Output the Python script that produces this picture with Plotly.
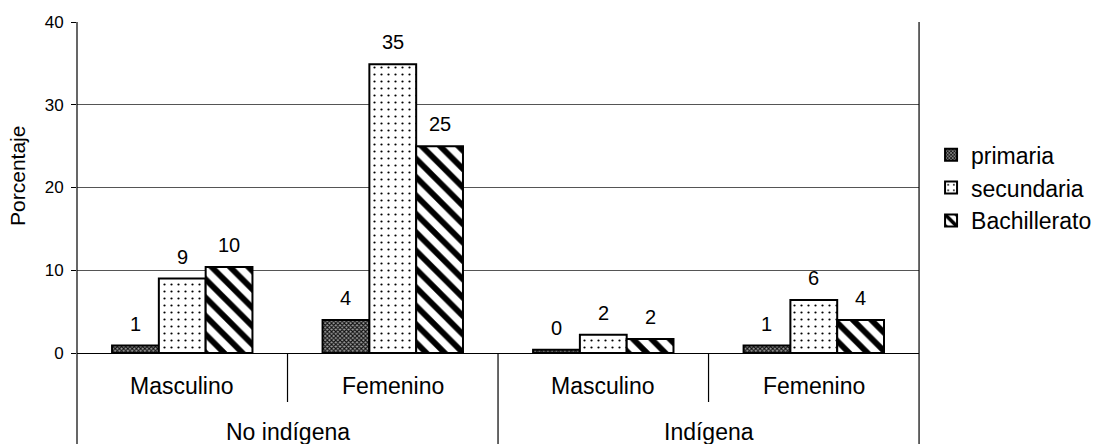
import plotly.graph_objects as go

outer_groups = ["No indígena", "No indígena", "Indígena", "Indígena"]
inner_groups = ["Masculino", "Femenino", "Masculino", "Femenino"]
series_names = ["primaria", "secundaria", "Bachillerato"]
primaria = [0.9, 4.0, 0.4, 0.9]
secundaria = [9.0, 34.9, 2.2, 6.4]
bachillerato = [10.4, 25.0, 1.7, 4.0]
y_ticks = [0, 10, 20, 30, 40]

FONT = "Liberation Sans, Arial, sans-serif"
keys = [f"{o}|{i}" for o, i in zip(outer_groups, inner_groups)]
series_values = [primaria, secundaria, bachillerato]
patterns = [
    dict(shape="x", size=3, solidity=0.6, fgcolor="#111111", bgcolor="#a0a0a0", fillmode="replace"),
    dict(shape=".", size=7, solidity=0.08, fgcolor="#000000", bgcolor="#ffffff", fillmode="replace"),
    dict(shape="\\", size=13, solidity=0.45, fgcolor="#000000", bgcolor="#ffffff", fillmode="replace"),
]
BARGAP = 0.333

fig = go.Figure()
for k, (name, vals, pat) in enumerate(zip(series_names, series_values, patterns)):
    fig.add_trace(go.Bar(
        x=keys, y=vals, name=name, legendgroup=name,
        marker=dict(color=pat["bgcolor"], pattern=pat, line=dict(color="black", width=2)),
    ))

n = len(keys)
bw = (1 - BARGAP) / len(series_names)
annotations = []
# data labels
for k, vals in enumerate(series_values):
    for ci, v in enumerate(vals):
        annotations.append(dict(
            x=ci + (k - 1) * bw, y=v, xref="x", yref="y", text=f"{round(v):d}",
            showarrow=False, yanchor="bottom", yshift=9,
            font=dict(family=FONT, size=20, color="black")))
# inner category labels
for ci, lab in enumerate(inner_groups):
    annotations.append(dict(
        x=(ci + 0.5) / n, y=-0.10, xref="paper", yref="paper", text=lab,
        showarrow=False, yanchor="middle", xanchor="center",
        font=dict(family=FONT, size=23, color="black")))
# outer category labels
outer_unique = []
for o in outer_groups:
    if o not in outer_unique:
        outer_unique.append(o)
for o in outer_unique:
    idx = [i for i, g in enumerate(outer_groups) if g == o]
    center = (min(idx) + max(idx) + 1) / 2 / n
    annotations.append(dict(
        x=center, y=-0.24, xref="paper", yref="paper", text=o,
        showarrow=False, yanchor="middle", xanchor="center",
        font=dict(family=FONT, size=23, color="black")))
# y title
annotations.append(dict(
    x=-0.07, y=0.535, xref="paper", yref="paper", text="Porcentaje", textangle=-90,
    showarrow=False, xanchor="center", yanchor="middle",
    font=dict(family=FONT, size=21, color="black")))

shapes = []
bottom = -0.275
for xp in (0, 1):
    shapes.append(dict(type="line", xref="paper", yref="paper", x0=xp, x1=xp, y0=bottom, y1=1,
                       line=dict(color="black", width=1.2)))
for b in range(1, n):
    y0 = bottom if outer_groups[b] != outer_groups[b - 1] else -0.148
    shapes.append(dict(type="line", xref="paper", yref="paper", x0=b / n, x1=b / n, y0=y0, y1=0,
                       line=dict(color="black", width=1.2)))

fig.update_layout(
    width=1096, height=444,
    margin=dict(l=77, r=175, t=22, b=91),
    paper_bgcolor="white", plot_bgcolor="white",
    barmode="group", bargap=BARGAP, bargroupgap=0,
    font=dict(family=FONT, color="black"),
    xaxis=dict(type="category", range=[-0.5, n - 0.5], showticklabels=False, showgrid=False,
               showline=True, linecolor="black", linewidth=1.2, ticks="", zeroline=False),
    yaxis=dict(range=[0, 40], tickvals=y_ticks, showgrid=True, gridcolor="#555555", gridwidth=1,
               showline=False, ticks="outside", ticklen=5, tickcolor="black",
               tickfont=dict(family=FONT, size=17, color="black"), zeroline=False,
               ticklabelstandoff=4),
    legend=dict(xref="container", yref="container", x=0.8495, y=0.70, xanchor="left", yanchor="top",
                font=dict(family=FONT, size=23, color="black"),
                tracegroupgap=9, bgcolor="rgba(0,0,0,0)", traceorder="normal"),
    annotations=annotations, shapes=shapes,
)

fig.write_html("out.html", config={"displayModeBar": False},
               post_script="document.body.style.margin='0';document.body.style.padding='0';")
